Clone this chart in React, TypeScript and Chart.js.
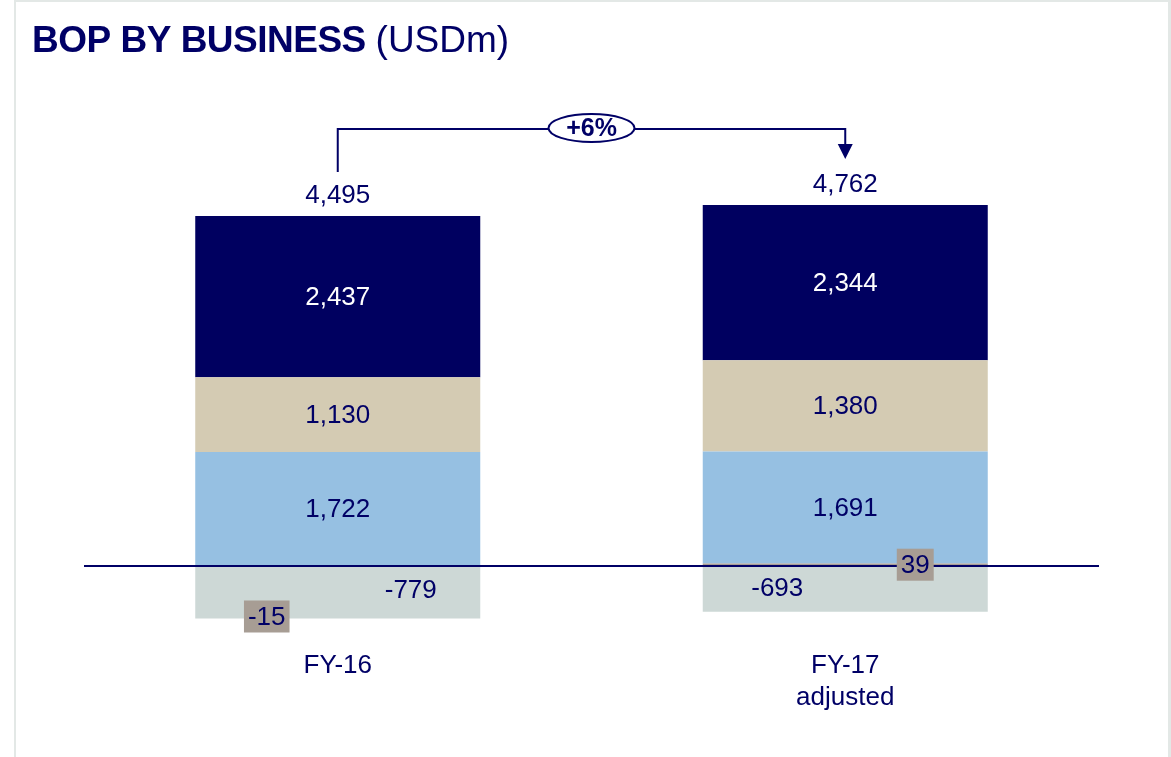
import React, { useEffect, useRef } from "react";
import { Chart, registerables } from "chart.js";

Chart.register(...registerables);

// ---- data ----
const categories = [["FY-16"], ["FY-17", "adjusted"]];
const otherValues = [-15, 39];
const businessA = [1722, 1691];
const businessB = [1130, 1380];
const businessC = [2437, 2344];
const centralValues = [-779, -693];
const totalLabels = ["4,495", "4,762"];
const growthLabel = "+6%";
const titleBold = "BOP BY BUSINESS";
const titleUnit = "(USDm)";

// ---- style ----
const NAVY = "#000066";
const FONT = "'Liberation Sans', Arial, sans-serif";
const fmt = (v: number) => v.toLocaleString("en-US");

const overlayPlugin = {
  id: "overlay",
  beforeDraw(chart: any) {
    const { ctx, width, height } = chart;
    ctx.save();
    ctx.fillStyle = "#ffffff";
    ctx.fillRect(0, 0, width, height);
    ctx.fillStyle = "#e3e8e6";
    ctx.fillRect(14, 0, width - 14, 2);
    ctx.fillRect(14, 0, 2, height);
    ctx.fillRect(width - 3, 0, 3, height);
    // title
    ctx.fillStyle = NAVY;
    ctx.textAlign = "left";
    ctx.textBaseline = "alphabetic";
    ctx.font = `bold 37px ${FONT}`;
    (ctx as any).letterSpacing = "-0.5px";
    ctx.fillText(titleBold, 32, 52);
    const w = ctx.measureText(titleBold + " ").width;
    (ctx as any).letterSpacing = "0px";
    ctx.font = `37px ${FONT}`;
    ctx.fillText(titleUnit, 32 + w, 52);
    ctx.restore();
  },
  afterDatasetsDraw(chart: any) {
    const { ctx, chartArea: ca, scales } = chart;
    const y0 = scales.y.getPixelForValue(0);
    ctx.save();
    // zero line
    ctx.strokeStyle = NAVY;
    ctx.lineWidth = 2;
    ctx.beginPath();
    ctx.moveTo(ca.left, y0);
    ctx.lineTo(ca.right, y0);
    ctx.stroke();

    // segment labels
    ctx.font = `26px ${FONT}`;
    ctx.textAlign = "center";
    ctx.textBaseline = "middle";
    const tops: number[] = [];
    const xs: number[] = [];
    chart.data.datasets.forEach((ds: any, di: number) => {
      const meta = chart.getDatasetMeta(di);
      meta.data.forEach((bar: any, i: number) => {
        const { x, y, base } = bar.getProps(["x", "y", "base"], true);
        xs[i] = x;
        if (ds.data[i] > 0) tops[i] = tops[i] === undefined ? y : Math.min(tops[i], y);
        const off = ds.labelOffsets ? ds.labelOffsets[i] : [0, 0];
        const cx = x + off[0];
        const cy = (y + base) / 2 + off[1];
        const text = fmt(ds.data[i]);
        if (ds.labelBox) {
          const w = ctx.measureText(text).width + 8;
          const h = 32;
          ctx.fillStyle = ds.labelBox;
          ctx.fillRect(cx - w / 2, cy - h / 2, w, h);
        }
        ctx.fillStyle = ds.labelColor;
        ctx.fillText(text, cx, cy + 1);
      });
    });

    // totals
    ctx.fillStyle = NAVY;
    const totalY = tops.map((t) => t - 21);
    totalLabels.forEach((t, i) => ctx.fillText(t, xs[i], totalY[i] + 1));

    // growth bracket
    const hy = 129;
    const xl = xs[0];
    const xr = xs[1];
    const tip = totalY[1] - 25;
    ctx.strokeStyle = NAVY;
    ctx.lineWidth = 2;
    ctx.beginPath();
    ctx.moveTo(xl, totalY[0] - 23);
    ctx.lineTo(xl, hy);
    ctx.lineTo(xr, hy);
    ctx.lineTo(xr, tip - 14);
    ctx.stroke();
    ctx.fillStyle = NAVY;
    ctx.beginPath();
    ctx.moveTo(xr - 7.5, tip - 15);
    ctx.lineTo(xr + 7.5, tip - 15);
    ctx.lineTo(xr, tip);
    ctx.closePath();
    ctx.fill();
    const ex = (xl + xr) / 2;
    ctx.beginPath();
    ctx.ellipse(ex, hy - 1, 43, 14, 0, 0, Math.PI * 2);
    ctx.fillStyle = "#ffffff";
    ctx.fill();
    ctx.stroke();
    ctx.fillStyle = NAVY;
    ctx.font = `bold 25px ${FONT}`;
    ctx.fillText(growthLabel, ex, hy);

    // category labels
    ctx.font = `26px ${FONT}`;
    chart.data.labels.forEach((lab: string[], i: number) => {
      const x = scales.x.getPixelForValue(i);
      lab.forEach((line, li) => ctx.fillText(line, x, ca.bottom + 26 + li * 32));
    });
    ctx.restore();
  },
};

export default function App() {
  const ref = useRef<HTMLCanvasElement>(null);
  useEffect(() => {
    if (!ref.current) return;
    const chart = new Chart(ref.current, {
      type: "bar",
      data: {
        labels: categories as any,
        datasets: [
          {
            label: "Other",
            data: otherValues,
            backgroundColor: "#a79d94",
            labelColor: NAVY,
            labelBox: "#a79d94",
            labelOffsets: [
              [-71, 50],
              [70, 0],
            ],
          } as any,
          { label: "Business A", data: businessA, backgroundColor: "#96c0e2", labelColor: NAVY } as any,
          { label: "Business B", data: businessB, backgroundColor: "#d4cbb3", labelColor: NAVY } as any,
          { label: "Business C", data: businessC, backgroundColor: "#000060", labelColor: "#ffffff" } as any,
          {
            label: "Central",
            data: centralValues,
            backgroundColor: "#cdd8d6",
            labelColor: NAVY,
            labelOffsets: [
              [73, -3],
              [-68, -1],
            ],
          } as any,
        ],
      },
      options: {
        responsive: false,
        animation: false,
        layout: { padding: { top: 100, bottom: 117, left: 84, right: 72 } },
        datasets: { bar: { barPercentage: 0.5616, categoryPercentage: 1, borderWidth: 0 } },
        scales: {
          x: { stacked: true, display: false },
          y: { stacked: true, display: false, min: -1118, max: 7040 },
        },
        plugins: { legend: { display: false }, tooltip: { enabled: false }, title: { display: false } },
      },
      plugins: [overlayPlugin],
    });
    return () => chart.destroy();
  }, []);
  return (
    <div style={{ position: "fixed", left: 0, top: 0, width: 1171, height: 757, background: "#fff" }}>
      <canvas ref={ref} width={1171} height={757} style={{ display: "block" }} />
    </div>
  );
}
